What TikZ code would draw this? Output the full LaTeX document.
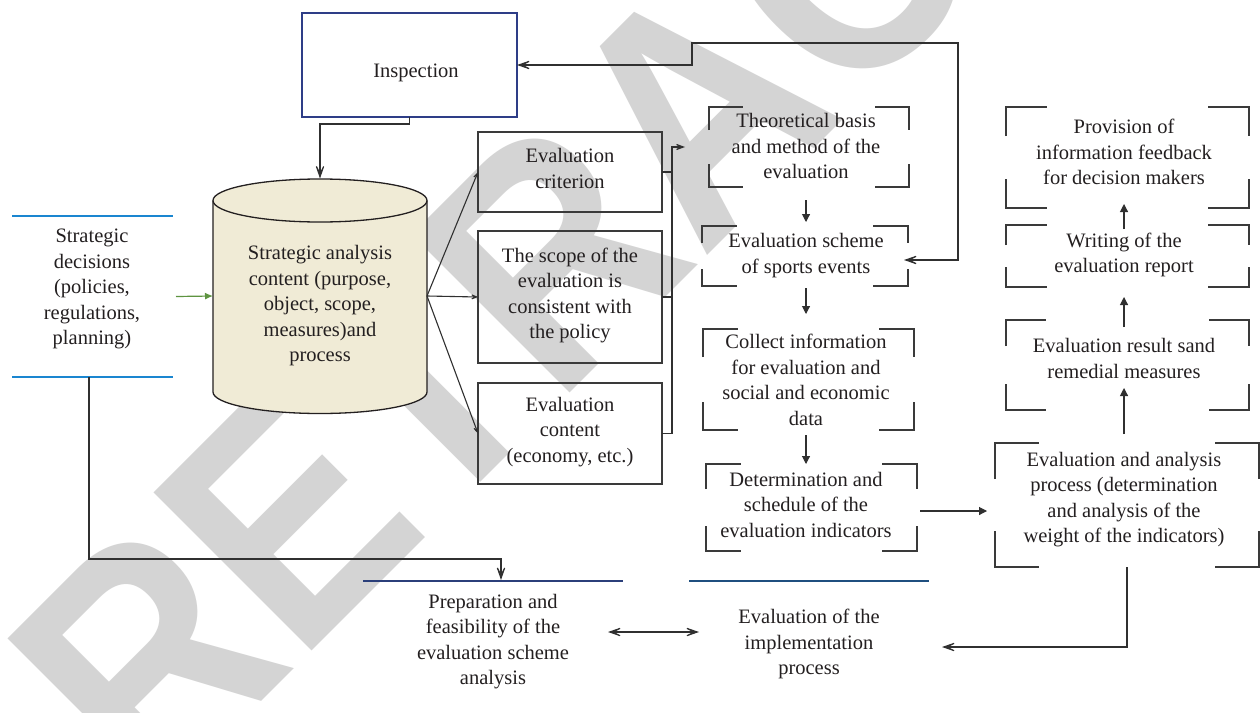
\documentclass[tikz,border=0pt]{standalone}
\usepackage{fontspec}
\setmainfont{Liberation Serif}
\newfontfamily\diagfont{Liberation Serif}
\newfontfamily\wmfont[FakeStretch=0.88]{Liberation Sans}
\usetikzlibrary{arrows.meta,calc}
\definecolor{ink}{HTML}{231F20}
\definecolor{boxc}{HTML}{3A3A3A}
\definecolor{linec}{HTML}{303030}
\definecolor{inspc}{HTML}{2E3D87}
\definecolor{sdc}{HTML}{1A86D0}
\definecolor{prepc}{HTML}{2B3F7A}
\definecolor{impc}{HTML}{1F4F7F}
\definecolor{cylf}{HTML}{F0EBD6}
\definecolor{grn}{HTML}{5E9441}
\definecolor{wm}{HTML}{D4D4D4}
\newcommand\brkframe[3]{%
  \draw[brk] ([yshift=-#3pt]#1.north west) -- (#1.north west) -- ([xshift=#2pt]#1.north west);
  \draw[brk] ([xshift=-#2pt]#1.north east) -- (#1.north east) -- ([yshift=-#3pt]#1.north east);
  \draw[brk] ([yshift=#3pt]#1.south west) -- (#1.south west) -- ([xshift=#2pt]#1.south west);
  \draw[brk] ([xshift=-#2pt]#1.south east) -- (#1.south east) -- ([yshift=#3pt]#1.south east);
}
\begin{document}
\begin{tikzpicture}[x=1pt,y=-1pt,
  txt/.style={align=center, inner sep=0pt, text=ink, font=\diagfont\fontsize{20.5}{25.5}\selectfont,
    execute at begin node=\strut, execute at end node=\strut},
  frame/.style={rectangle, inner sep=0pt, outer sep=0pt, draw=none},
  rbox/.style={frame, draw=boxc, line width=1.3pt, align=center, text=ink,
    font=\diagfont\fontsize{20.5}{25.5}\selectfont, execute at begin node=\strut, execute at end node=\strut},
  brk/.style={draw=boxc, line width=1.2pt},
  conn/.style={draw=linec, line width=1.1pt},
  bigbarb/.style={conn, -{Stealth[length=20pt,width=14pt,inset=14pt]}},
  dblbarb/.style={conn, {Stealth[length=20pt,width=14pt,inset=14pt]}-{Stealth[length=20pt,width=14pt,inset=14pt]}},
  medbarb/.style={conn, -{Stealth[length=11pt,width=9pt,inset=7pt]}},
  barbmid/.style={conn, -{Stealth[length=15pt,width=11pt,inset=10pt]}},
  tri/.style={conn, -{Triangle[length=8pt,width=8pt]}},
]
\useasboundingbox (0,0) rectangle (1260,712);
\fill[white] (0,0) rectangle (1260,712);

% watermark
\node[rotate=45, anchor=base west, inner sep=0pt, text=wm,
  font=\wmfont\bfseries\fontsize{325}{325}\selectfont] (wmk) at (152.3,810.7) {RETRACTED};

% Inspection
\node[frame, draw=inspc, line width=1.4pt, minimum width=215pt, minimum height=104pt] (insp) at (409.5,65) {};
\node[txt] (insp-t) at (416,72) {Inspection};

% Cylinder
\fill[cylf] (213,200.5) -- (213,392) arc[start angle=180, end angle=360, x radius=107pt, y radius=21.5pt]
  -- (427,200.5) arc[start angle=0, end angle=180, x radius=107pt, y radius=21.5pt] -- cycle;
\draw[draw=ink, line width=1.3pt] (213,200.5) -- (213,392) arc[start angle=180, end angle=360, x radius=107pt, y radius=21.5pt] -- (427,200.5);
\draw[draw=ink, line width=1.3pt] (320,200.5) ellipse[x radius=107pt, y radius=21.5pt];
\node[frame, minimum width=214pt, minimum height=235pt] (cyl) at (320,296) {};
\node[txt] (cyl-t) at (320,307.5) {Strategic analysis\\content (purpose,\\object, scope,\\measures)and\\process};

% Strategic decisions
\node[frame, minimum width=161pt, minimum height=161pt] (sdf) at (92.5,296.5) {};
\draw[draw=sdc, line width=1.2pt] (sdf.north west) -- (sdf.north east);
\draw[draw=sdc, line width=1.2pt] (sdf.south west) -- (sdf.south east);
\node[txt] (sd-t) at (92,291) {Strategic\\decisions\\(policies,\\regulations,\\planning)};

% Evaluation boxes
\node[rbox, minimum width=184pt, minimum height=80pt] (crit) at (570,172) {Evaluation\\criterion};
\node[rbox, minimum width=184pt, minimum height=132pt] (scope) at (570,297) {The scope of the\\evaluation is\\consistent with\\the policy};
\node[rbox, minimum width=184pt, minimum height=101pt] (cont) at (570,433.5) {Evaluation\\content\\(economy, etc.)};

% Middle column bracket boxes
\node[frame, minimum width=200pt, minimum height=80pt] (theo) at (809,147) {};
\brkframe{theo}{34}{23}
\node[txt] (theo-t) at (806,150) {Theoretical basis\\and method of the\\evaluation};

\node[frame, minimum width=206pt, minimum height=60pt] (sch) at (805,256) {};
\brkframe{sch}{35}{17}
\node[txt] (sch-t) at (806,257) {Evaluation scheme\\of sports events};

\node[frame, minimum width=211pt, minimum height=101pt] (col) at (808.5,379.5) {};
\brkframe{col}{35}{28}
\node[txt] (col-t) at (806,383.4) {Collect information\\for evaluation and\\social and economic\\data};

\node[frame, minimum width=211pt, minimum height=87pt] (det) at (811.5,507.5) {};
\brkframe{det}{35}{25}
\node[txt] (det-t) at (806,508.4) {Determination and\\schedule of the\\evaluation indicators};

% Right column bracket boxes
\node[frame, minimum width=243pt, minimum height=101pt] (prov) at (1127.5,157.5) {};
\brkframe{prov}{41}{29}
\node[txt] (prov-t) at (1124,156) {Provision of\\information feedback\\for decision makers};

\node[frame, minimum width=243pt, minimum height=62pt] (wri) at (1127.5,256) {};
\brkframe{wri}{41}{20}
\node[txt] (wri-t) at (1124,256.4) {Writing of the\\evaluation report};

\node[frame, minimum width=243pt, minimum height=90pt] (res) at (1127.5,365) {};
\brkframe{res}{40}{26}
\node[txt] (res-t) at (1124,362) {Evaluation result sand\\remedial measures};

\node[frame, minimum width=264pt, minimum height=124pt] (ea) at (1127,505) {};
\brkframe{ea}{44}{36}
\node[txt] (ea-t) at (1124,501.4) {Evaluation and analysis\\process (determination\\and analysis of the\\weight of the indicators)};

% Bottom items
\node[frame, minimum width=260pt, minimum height=0pt] (prepf) at (493,581) {};
\draw[draw=prepc, line width=1.2pt] (prepf.west) -- (prepf.east);
\node[txt] (prep-t) at (493,643) {Preparation and\\feasibility of the\\evaluation scheme\\analysis};

\node[frame, minimum width=240pt, minimum height=0pt] (impf) at (809,581) {};
\draw[draw=impc, line width=1.2pt] (impf.west) -- (impf.east);
\node[txt] (imp-t) at (809,646) {Evaluation of the\\implementation\\process};

% Connectors
\draw[bigbarb] (insp.south) -- ++(0,7) -| (cyl.north);
\draw[dblbarb] (insp.east) -- ++(175,0) -- ++(0,-22) -- ++(266,0) |- ($(sch.east)+(-4,4)$);
\draw[draw=grn, line width=1.2pt, -{Latex[length=8pt,width=7pt]}] ($(sdf.east)+(3,0)$) -- (cyl.west);
\draw[medbarb] (cyl.east) -- (crit.west);
\draw[medbarb] (cyl.east) -- (scope.west);
\draw[medbarb] (cyl.east) -- (cont.west);
\draw[conn] (crit.east) -- ++(10,0);
\draw[conn] (scope.east) -- ++(10,0);
\draw[barbmid] (cont.east) -- ++(10,0) |- ($(theo.west)+(-24,0)$);

\draw[tri] ($(theo.south -| theo-t)+(0,13)$) -- ($(sch.north -| theo-t)+(0,-4)$);
\draw[tri] ($(sch.south -| sch-t)+(0,2)$) -- ($(col.north -| sch-t)+(0,-15)$);
\draw[tri] ($(col.south -| col-t)+(0,5)$) -- (det.north -| col-t);
\draw[tri] ($(det.east)+(3,3.5)$) -- ($(ea.west)+(-8,6)$);

\draw[tri] ($(ea.north -| ea-t)+(0,-9)$) -- ($(res.south -| ea-t)+(0,-22)$);
\draw[tri] ($(res.north -| res-t)+(0,7)$) -- ($(wri.south -| res-t)+(0,10)$);
\draw[tri] ($(wri.north -| wri-t)+(0,4)$) -- ($(prov.south -| wri-t)+(0,-4)$);

\draw[bigbarb] ($(sdf.south)+(-3.5,0)$) |- ($(prepf.north)+(8,-22)$) -- ($(prepf.north)+(8,-1)$);
\draw[dblbarb] ($(prepf.east)+(-15,51)$) -- ($(impf.west)+(10,51)$);
\draw[bigbarb] (ea.south) |- ($(impf.east)+(13,66)$);
\end{tikzpicture}
\end{document}
